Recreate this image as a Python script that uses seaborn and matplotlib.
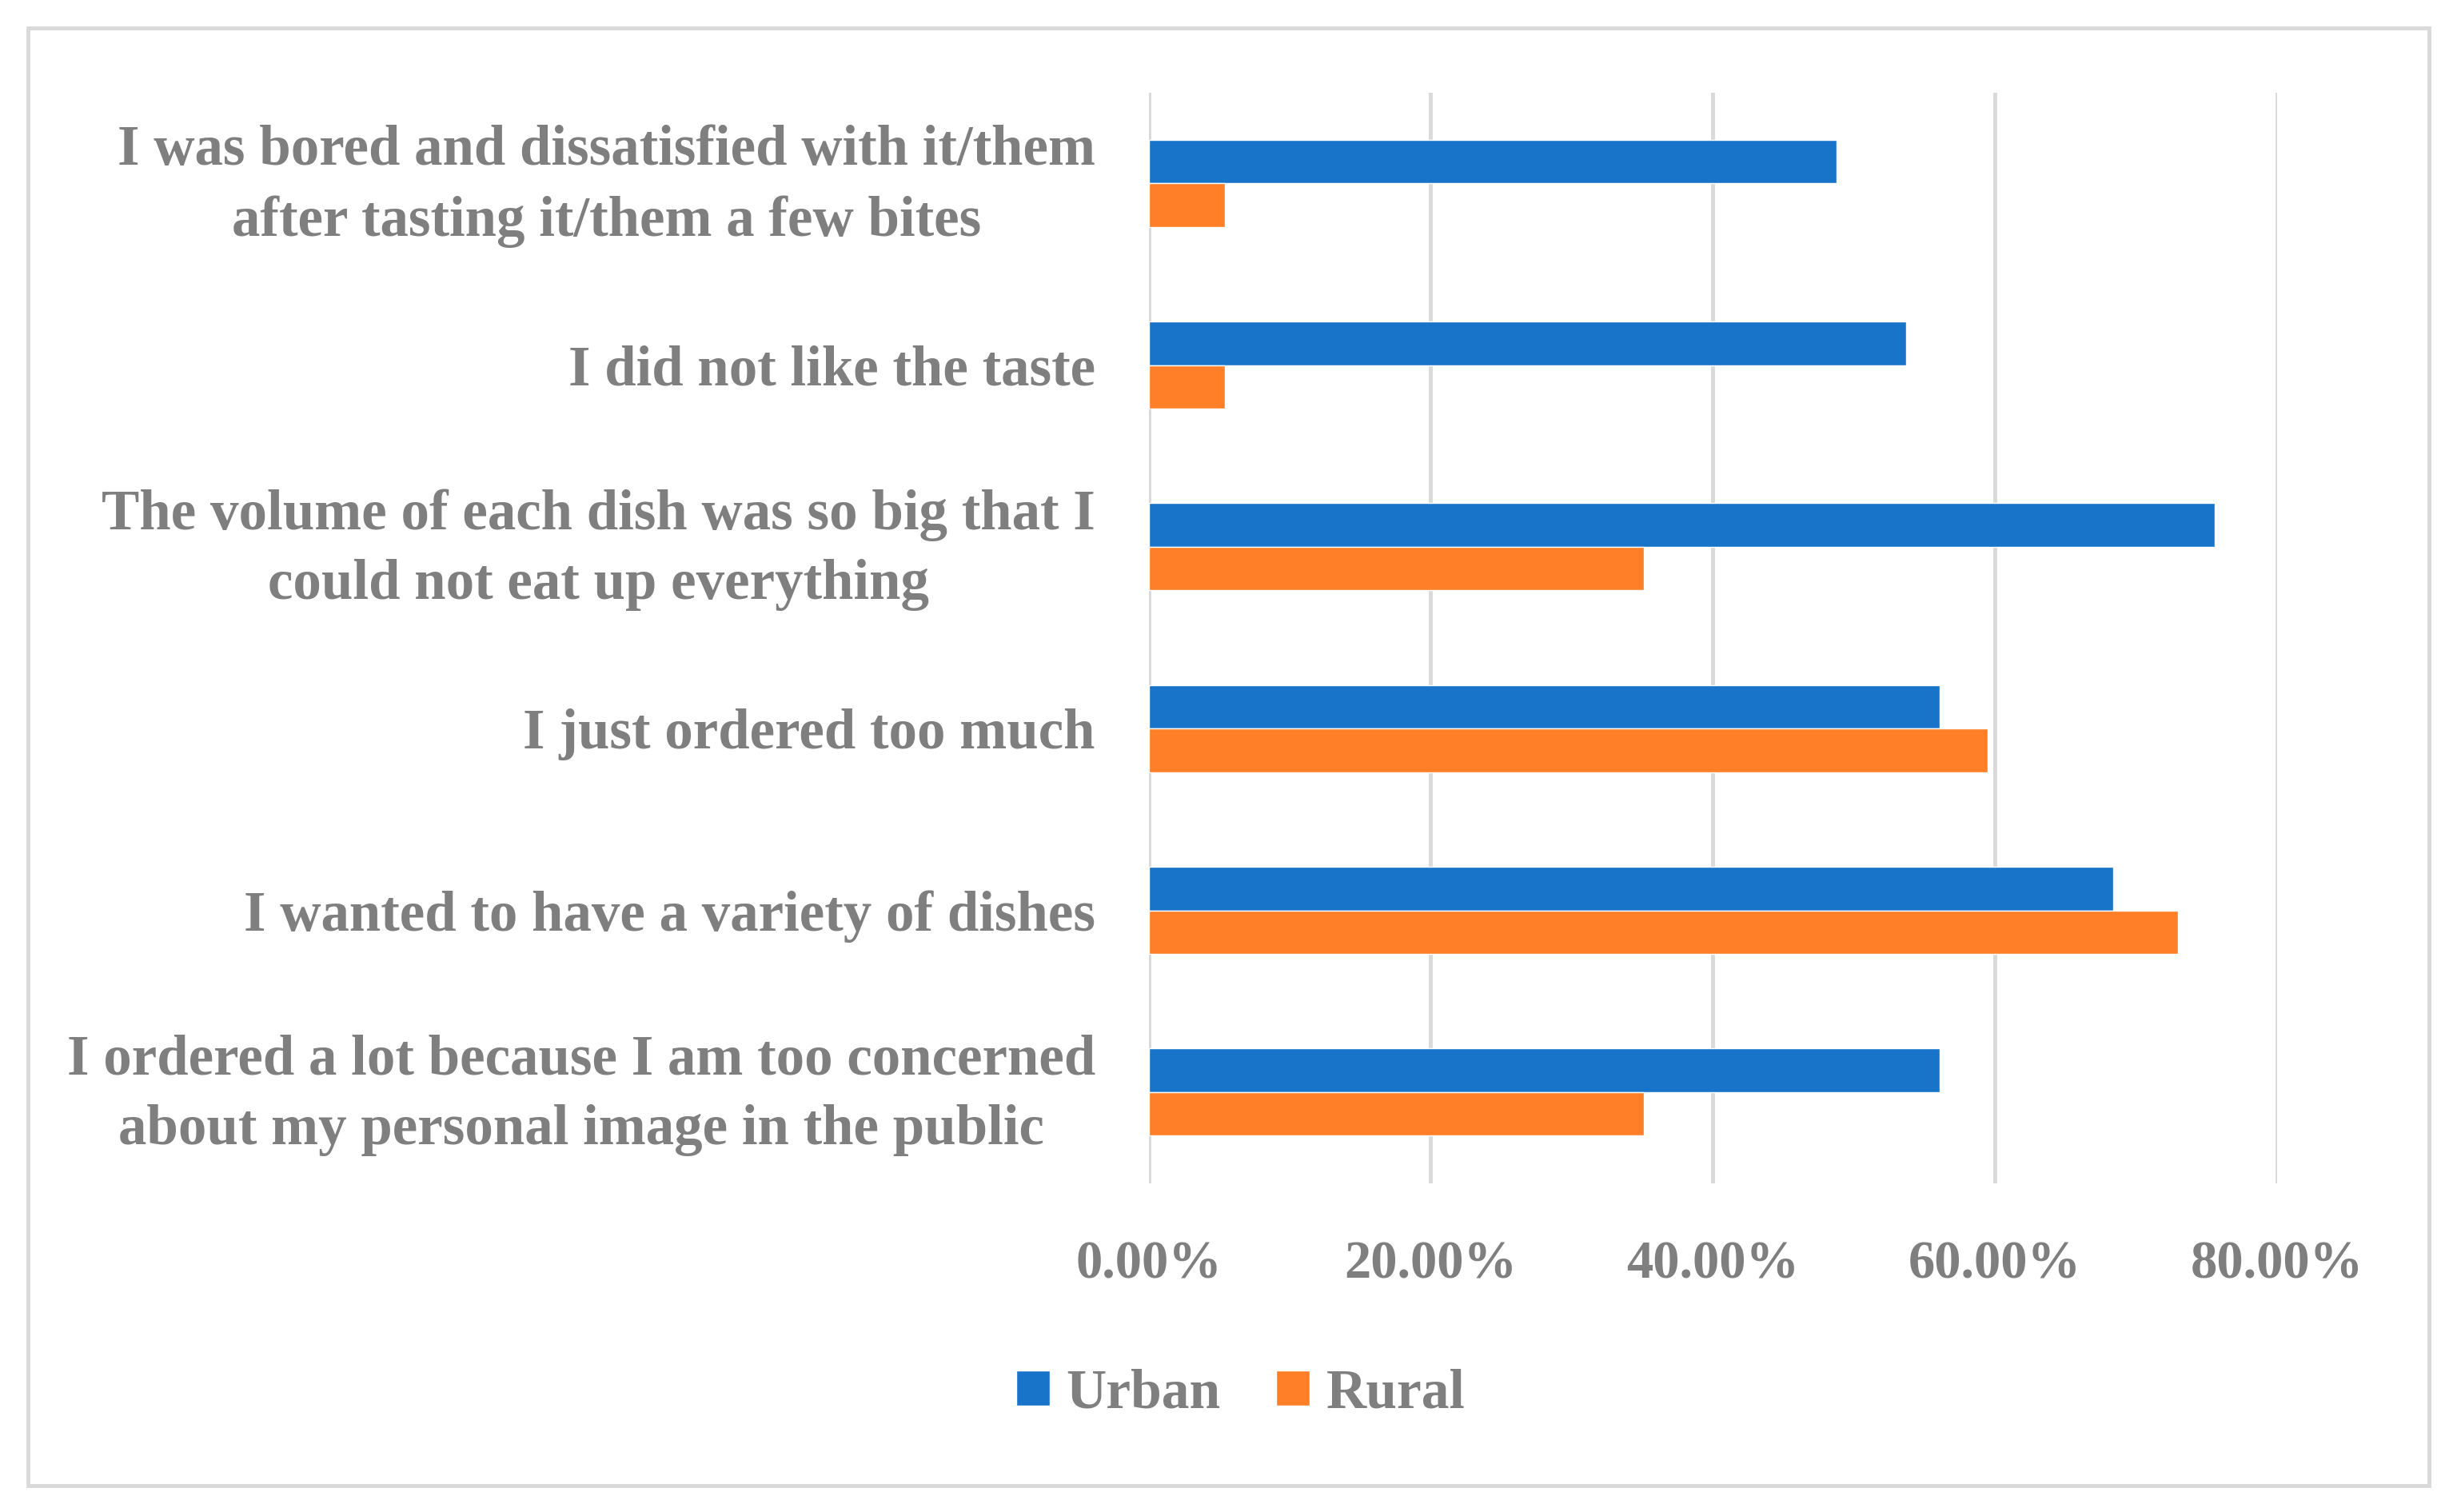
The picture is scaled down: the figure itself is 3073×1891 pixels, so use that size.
import matplotlib
matplotlib.use("Agg")
import matplotlib.pyplot as plt
import matplotlib.transforms as mtransforms
import seaborn as sns
import pandas as pd
from matplotlib.patches import Rectangle
from matplotlib.ticker import FuncFormatter

categories = [
    "I was bored and dissatisfied with it/them\nafter tasting it/them a few bites",
    "I did not like the taste",
    "The volume of each dish was so big that I\ncould not eat up everything",
    "I just ordered too much",
    "I wanted to have a variety of dishes",
    "I ordered a lot because I am too concerned\nabout my personal image in the public",
]
urban = [48.8, 53.7, 75.6, 56.1, 68.4, 56.1]
rural = [5.4, 5.4, 35.1, 59.5, 73.0, 35.1]
series = ["Urban", "Rural"]
xticks = [0, 20, 40, 60, 80]

df = pd.DataFrame({
    "category": categories * 2,
    "value": urban + rural,
    "group": ["Urban"] * len(categories) + ["Rural"] * len(categories),
})

sns.set_theme(style="white")
plt.rcParams["font.family"] = ["Liberation Serif", "DejaVu Serif"]
plt.rcParams["font.weight"] = "bold"
text_color = "#7f7f7f"
grid_color = "#d9d9d9"
fs_y = 51
fs_x = 48
fs_leg = 50

fig = plt.figure(figsize=(30.73, 18.91), dpi=100)
ax = fig.add_axes([0.4675, 0.2176, 0.9267 - 0.4675, 0.9389 - 0.2176])

sns.barplot(data=df, y="category", x="value", hue="group", hue_order=series,
            order=categories, palette=["#1874C8", "#FE7F27"], width=0.48,
            saturation=1, ax=ax, orient="h", legend=True)

ax.set_xlim(0, 80)
ax.set_xticks(xticks)
ax.xaxis.set_major_formatter(FuncFormatter(lambda v, p: f"{v:.2f}%"))
ax.grid(axis="x", color=grid_color, linewidth=3.5)
ax.set_axisbelow(True)
for s in ax.spines.values():
    s.set_visible(False)
ax.set_xlabel("")
ax.set_ylabel("")
ax.tick_params(axis="both", length=0, colors=text_color)
ax.tick_params(axis="y", pad=48, labelsize=fs_y)
ax.tick_params(axis="x", pad=52, labelsize=fs_x)
for lab in ax.get_yticklabels() + ax.get_xticklabels():
    lab.set_fontweight("bold")
shift = mtransforms.ScaledTranslation(0, 0.15, fig.dpi_scale_trans)
for lab in ax.get_yticklabels():
    lab.set_multialignment("center")
    lab.set_linespacing(1.45)
    if "\n" in lab.get_text():
        lab.set_transform(lab.get_transform() + shift)

handles, labels = ax.get_legend_handles_labels()
ax.legend_.remove()
fig.legend(handles, labels, loc="center", bbox_to_anchor=(0.505, 0.078), ncol=2,
           frameon=False, prop={"size": fs_leg, "weight": "bold"}, labelcolor=text_color,
           handlelength=0.6, handleheight=0.6, handletextpad=0.3, columnspacing=1.0)

fig.patches.append(Rectangle((0.0115, 0.0176), 0.9885 - 0.0115, 0.9813 - 0.0176,
                             transform=fig.transFigure, fill=False,
                             edgecolor=grid_color, linewidth=3.5))

fig.savefig("out.png", dpi=100, facecolor="white")
